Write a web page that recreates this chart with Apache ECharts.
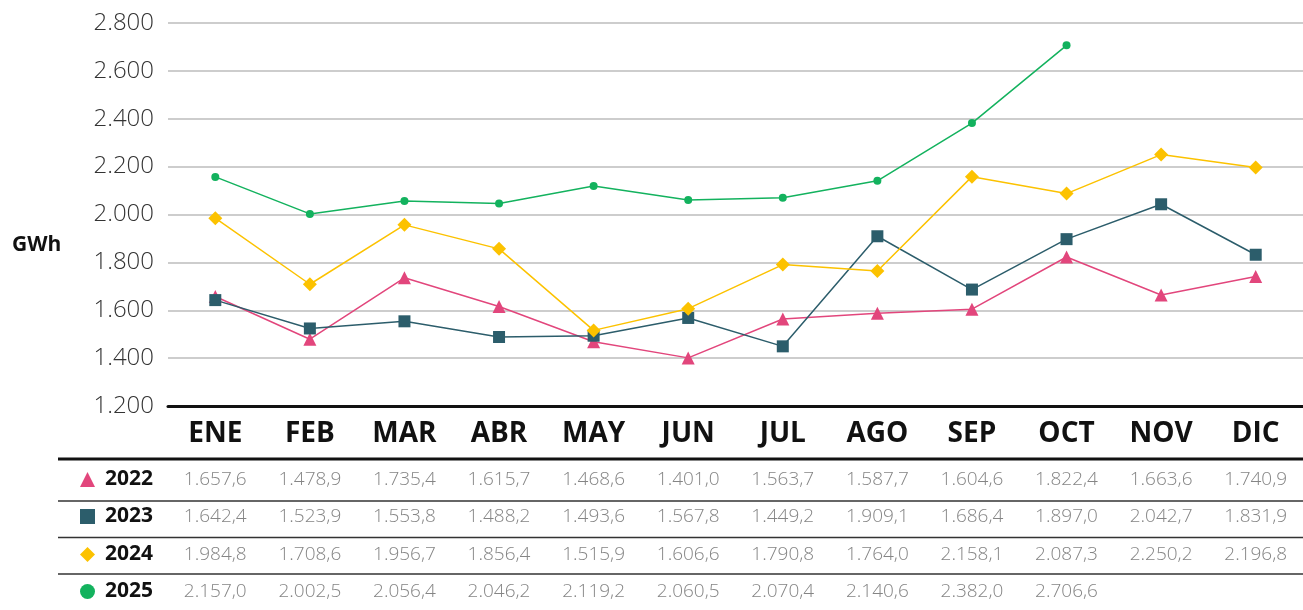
<!DOCTYPE html>
<html>
<head>
<meta charset="utf-8">
<script src="https://cdn.jsdelivr.net/npm/echarts@6/dist/echarts.min.js"></script>
<style>
html,body{margin:0;padding:0;background:#fff;}
#chart{width:1303px;height:610px;}
</style>
</head>
<body>
<div id="chart"></div>
<script>
const months = ['ENE','FEB','MAR','ABR','MAY','JUN','JUL','AGO','SEP','OCT','NOV','DIC'];
const years = ['2022','2023','2024','2025'];
const v2022 = [1657.6,1478.9,1735.4,1615.7,1468.6,1401.0,1563.7,1587.7,1604.6,1822.4,1663.6,1740.9];
const v2023 = [1642.4,1523.9,1553.8,1488.2,1493.6,1567.8,1449.2,1909.1,1686.4,1897.0,2042.7,1831.9];
const v2024 = [1984.8,1708.6,1956.7,1856.4,1515.9,1606.6,1790.8,1764.0,2158.1,2087.3,2250.2,2196.8];
const v2025 = [2157.0,2002.5,2056.4,2046.2,2119.2,2060.5,2070.4,2140.6,2382.0,2706.6,null,null];
const yTicks = {min:1200, max:2800, interval:200};

const seriesData = [v2022, v2023, v2024, v2025];
const colors = ['#E2467C','#2C5D6B','#FCC200','#13B25E'];
const symbols = ['triangle','rect','diamond','circle'];
const symbolSizes = [13,12,14,8];
const FONT = '"Open Sans", Lato, sans-serif';

function thousands(n){
  const s = String(Math.trunc(n));
  return s.replace(/\B(?=(\d{3})+(?!\d))/g,'.');
}
function fmt(v){
  if (v === null || v === undefined) return '';
  const fixed = v.toFixed(1).split('.');
  return thousands(Number(fixed[0])) + ',' + fixed[1];
}

const rowOffsets = [59, 96, 134, 171];
const rowCenters = [481, 518, 556, 593];
const xAxes = [{
  type:'category', data: months, boundaryGap:true, gridIndex:0,
  axisLine:{show:true, lineStyle:{color:'#111', width:3}},
  axisTick:{show:false},
  axisLabel:{interval:0, margin:14, fontSize:28, fontWeight:'bold', color:'#111', fontFamily:FONT}
}];
seriesData.forEach((arr, i) => {
  xAxes.push({
    type:'category', data: months, boundaryGap:true, gridIndex:0, position:'bottom',
    offset: rowOffsets[i],
    axisLine:{show:false}, axisTick:{show:false}, splitLine:{show:false},
    axisLabel:{interval:0, margin:5, fontSize:19, fontWeight:300, color:'#858585', fontFamily:FONT,
      formatter:(val, idx) => fmt(arr[idx])}
  });
});

const legends = years.map((y,i)=>({
  orient:'horizontal', left:80, top: rowCenters[i]-12,
  itemWidth:15, itemHeight:15, padding:0,
  textStyle:{fontSize:21, fontWeight:'bold', color:'#111', fontFamily:FONT, padding:[0,0,0,5]},
  data:[{name:y, icon:symbols[i]}]
}));

const chart = echarts.init(document.getElementById('chart'));
chart.setOption({
  animation:false,
  backgroundColor:'#fff',
  grid:{left:168, right:0, top:23, bottom:204, containLabel:false},
  xAxis: xAxes,
  yAxis:{
    type:'value', min:yTicks.min, max:yTicks.max, interval:yTicks.interval,
    axisLine:{show:false}, axisTick:{show:false},
    splitLine:{lineStyle:{color:'#bdbdbd', width:1.5}},
    axisLabel:{margin:14, fontSize:24, color:'#333', fontWeight:300, fontFamily:FONT,
      formatter:v => thousands(v)}
  },
  legend: legends,
  graphic:[
    {type:'text', left:12, top:235, style:{text:'GWh', fontSize:21, fontWeight:'bold', fill:'#111', fontFamily:FONT}},
    {type:'line', shape:{x1:58, y1:459, x2:1303, y2:459}, style:{stroke:'#111', lineWidth:3}},
    {type:'line', shape:{x1:58, y1:501, x2:1303, y2:501}, style:{stroke:'#333', lineWidth:1.5}},
    {type:'line', shape:{x1:58, y1:537.5, x2:1303, y2:537.5}, style:{stroke:'#333', lineWidth:1.5}},
    {type:'line', shape:{x1:58, y1:574, x2:1303, y2:574}, style:{stroke:'#333', lineWidth:1.5}}
  ],
  series: seriesData.map((arr,i)=>({
    name: years[i], type:'line', data: arr, xAxisIndex:0,
    symbol: symbols[i], symbolSize: symbolSizes[i], showAllSymbol:true,
    itemStyle:{color:colors[i]},
    lineStyle:{color:colors[i], width:1.5},
    connectNulls:false
  }))
});
</script>
</body>
</html>
